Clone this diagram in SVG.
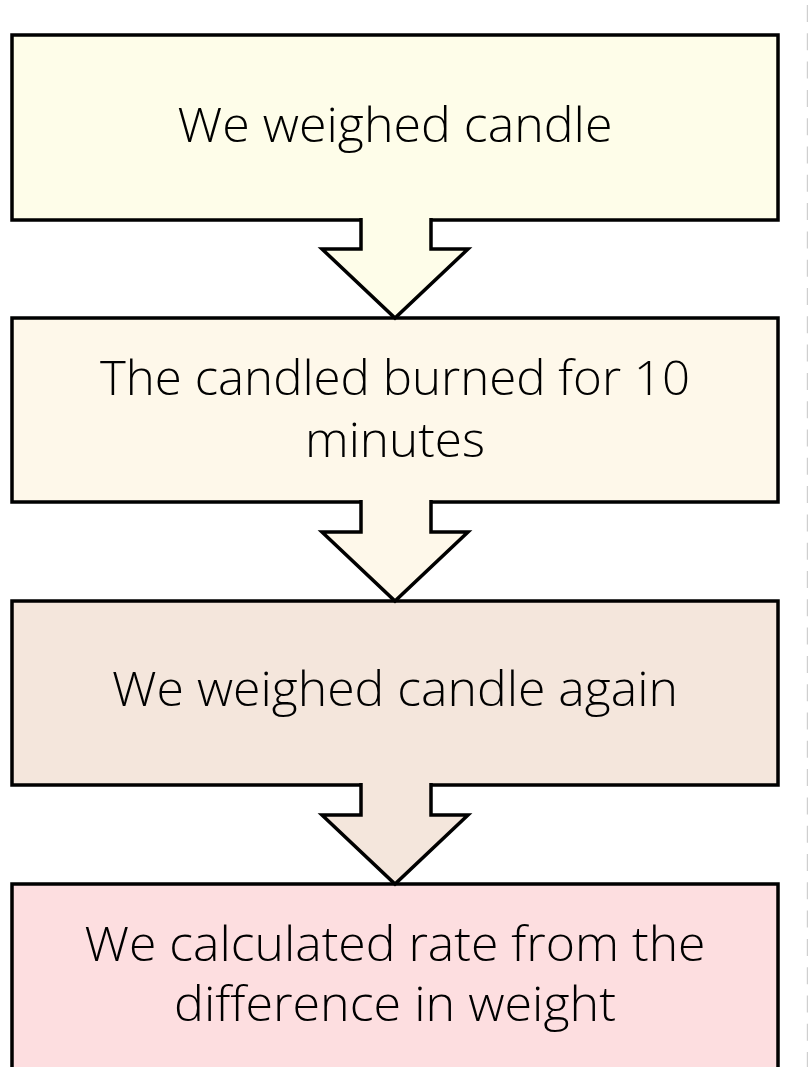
<svg xmlns="http://www.w3.org/2000/svg" width="808" height="1067" viewBox="0 0 808 1067">
  <style>
    .box { stroke: #000; stroke-width: 3.5; }
    .arrow { stroke: #000; stroke-width: 3.5; stroke-linejoin: miter; }
    .lbl { font-family: "Open Sans", "Noto Sans", "Liberation Sans", sans-serif; font-weight: 300; font-size: 47px; fill: #000; text-anchor: middle; }
    .edge { stroke: #cfcfcf; stroke-width: 1.2; stroke-dasharray: 17 11.3; }
  </style>
  <rect x="0" y="0" width="808" height="1067" fill="#ffffff"/>
  <line class="edge" x1="807.4" y1="5" x2="807.4" y2="1067"/>

  <g id="node1">
    <rect class="box" x="12" y="35" width="766" height="185" fill="#FEFDE9"/>
    <text class="lbl" x="395" y="142" textLength="435" lengthAdjust="spacingAndGlyphs">We weighed candle</text>
  </g>
  <g id="node2">
    <rect class="box" x="12" y="318" width="766" height="184" fill="#FEF8EA"/>
    <text class="lbl" x="395" y="395" textLength="590" lengthAdjust="spacingAndGlyphs">The candled burned for 10</text>
    <text class="lbl" x="395" y="457" textLength="180" lengthAdjust="spacingAndGlyphs">minutes</text>
  </g>
  <g id="node3">
    <rect class="box" x="12" y="601" width="766" height="184" fill="#F4E6DC"/>
    <text class="lbl" x="395" y="706" textLength="566" lengthAdjust="spacingAndGlyphs">We weighed candle again</text>
  </g>
  <g id="node4">
    <rect class="box" x="12" y="884" width="766" height="200" fill="#FDDEE0"/>
    <text class="lbl" x="395" y="961" textLength="621" lengthAdjust="spacingAndGlyphs">We calculated rate from the</text>
    <text class="lbl" x="395" y="1021" textLength="442" lengthAdjust="spacingAndGlyphs">difference in weight</text>
  </g>

  <g id="connectors">
    <path class="arrow" fill="#FEFDE9" d="M361,218 V249 H322 L395,318 L468,249 H431 V218"/>
    <path class="arrow" fill="#FEF8EA" d="M361,500 V532 H322 L395,601 L468,532 H431 V500"/>
    <path class="arrow" fill="#F4E6DC" d="M361,783 V815 H322 L395,884 L468,815 H431 V783"/>
  </g>
</svg>
